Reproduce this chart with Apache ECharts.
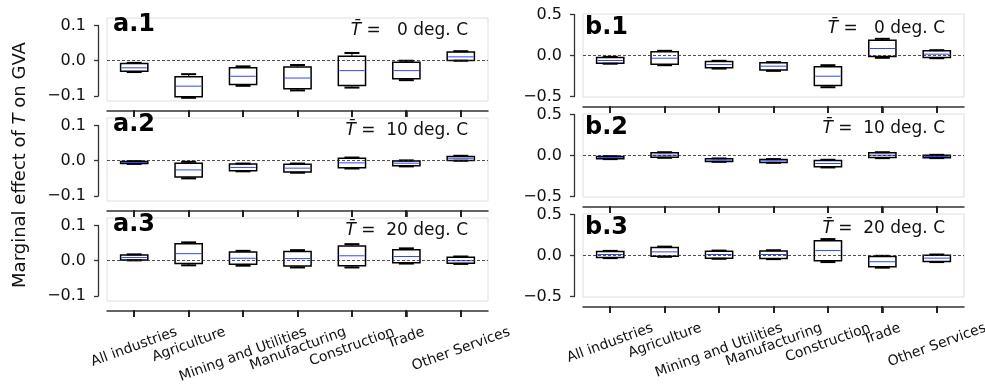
<!DOCTYPE html>
<html><head><meta charset="utf-8">
<script src="https://cdn.jsdelivr.net/npm/echarts@6/dist/echarts.min.js"></script>
<style>html,body{margin:0;padding:0;background:#fff}#c{width:985px;height:392px}</style>
</head><body><div id="c"></div>
<script>
const categories = ['All industries','Agriculture','Mining and Utilities','Manufacturing','Construction','Trade','Other Services'];
const temps = [0, 10, 20];
const panelNames = ['a.1','a.2','a.3','b.1','b.2','b.3'];
const yLabel = 'Marginal effect of T on GVA';
// each row: [lower whisker, Q1, median, Q3, upper whisker]
const a1 = [
  [-0.032,-0.030,-0.020,-0.008,-0.006],
  [-0.105,-0.102,-0.072,-0.045,-0.038],
  [-0.071,-0.067,-0.044,-0.020,-0.016],
  [-0.084,-0.079,-0.049,-0.018,-0.012],
  [-0.076,-0.070,-0.028, 0.013, 0.022],
  [-0.055,-0.051,-0.028,-0.004, 0.000],
  [ 0.000, 0.001, 0.011, 0.025, 0.027]
];
const a2 = [
  [-0.009,-0.008,-0.005,-0.002,-0.001],
  [-0.050,-0.046,-0.026,-0.007,-0.003],
  [-0.030,-0.028,-0.019,-0.009,-0.008],
  [-0.034,-0.032,-0.021,-0.010,-0.008],
  [-0.022,-0.020,-0.006, 0.007, 0.009],
  [-0.016,-0.014,-0.007,-0.001, 0.001],
  [ 0.000, 0.001, 0.007, 0.012, 0.014]
];
const a3 = [
  [ 0.001, 0.002, 0.009, 0.016, 0.018],
  [-0.013,-0.008, 0.020, 0.048, 0.052],
  [-0.014,-0.010, 0.007, 0.025, 0.028],
  [-0.019,-0.015, 0.006, 0.026, 0.030],
  [-0.019,-0.014, 0.014, 0.042, 0.047],
  [-0.008,-0.006, 0.012, 0.031, 0.035],
  [-0.009,-0.007, 0.000, 0.010, 0.012]
];
const b1 = [
  [-0.100,-0.093,-0.061,-0.024,-0.016],
  [-0.118,-0.106,-0.033, 0.045, 0.057],
  [-0.159,-0.150,-0.110,-0.073,-0.065],
  [-0.187,-0.175,-0.130,-0.089,-0.081],
  [-0.386,-0.366,-0.252,-0.138,-0.118],
  [-0.028,-0.012, 0.085, 0.187, 0.203],
  [-0.033,-0.024, 0.016, 0.057, 0.065]
];
const b2 = [
  [-0.044,-0.040,-0.026,-0.012,-0.008],
  [-0.028,-0.020, 0.004, 0.032, 0.040],
  [-0.077,-0.073,-0.056,-0.040,-0.036],
  [-0.089,-0.085,-0.065,-0.048,-0.044],
  [-0.145,-0.137,-0.097,-0.060,-0.052],
  [-0.032,-0.024, 0.004, 0.032, 0.040],
  [-0.032,-0.028,-0.012, 0.004, 0.008]
];
const b3 = [
  [-0.032,-0.024, 0.012, 0.048, 0.056],
  [-0.016,-0.008, 0.044, 0.096, 0.108],
  [-0.040,-0.032, 0.012, 0.052, 0.060],
  [-0.044,-0.036, 0.012, 0.056, 0.064],
  [-0.080,-0.064, 0.060, 0.180, 0.200],
  [-0.148,-0.136,-0.076,-0.012,-0.004],
  [-0.080,-0.072,-0.032, 0.004, 0.012]
];
const aTickRange = [-0.1, 0.1], aTickStep = 0.1, aLimits = [-0.114, 0.121];
const bTickRange = [-0.5, 0.5], bTickStep = 0.5, bLimits = [-0.505, 0.505];

const FONT = '"DejaVu Sans", "Liberation Sans", sans-serif';
const X_OFFSET = 10, X_TICK = 6;
const cols = {
  a: {left:107, width:381, top:18, height:83, lim:aLimits, tr:aTickRange, step:aTickStep, labX:113, labDy:7, tRight:468, tDy:13},
  b: {left:583, width:381, top:14, height:83, lim:bLimits, tr:bTickRange, step:bTickStep, labX:585, labDy:14, tRight:945, tDy:15}
};
const dataSets = [a1,a2,a3,b1,b2,b3];
const panels = dataSets.map((d,i)=>({col: i<3?'a':'b', row: i%3, name: panelNames[i], temp: temps[i%3], data: d}));

function renderBox(params, api) {
  const c = api.value(0);
  const x = api.coord([c, 0])[0];
  const yLo = api.coord([c, api.value(1)])[1];
  const yQ1 = api.coord([c, api.value(2)])[1];
  const yMed = api.coord([c, api.value(3)])[1];
  const yQ3 = api.coord([c, api.value(4)])[1];
  const yHi = api.coord([c, api.value(5)])[1];
  const band = api.size([1, 0])[0];
  const bw = band * 0.5, cw = bw * 0.55;
  const blk = '#000';
  return {type:'group', children:[
    {type:'line', shape:{x1:x,y1:yQ1,x2:x,y2:yLo}, style:{stroke:blk, lineWidth:1}},
    {type:'line', shape:{x1:x,y1:yQ3,x2:x,y2:yHi}, style:{stroke:blk, lineWidth:1}},
    {type:'line', shape:{x1:x-cw/2,y1:yLo,x2:x+cw/2,y2:yLo}, style:{stroke:blk, lineWidth:2}},
    {type:'line', shape:{x1:x-cw/2,y1:yHi,x2:x+cw/2,y2:yHi}, style:{stroke:blk, lineWidth:2}},
    {type:'rect', shape:{x:x-bw/2, y:yQ3, width:bw, height:yQ1-yQ3}, style:{fill:'none', stroke:blk, lineWidth:1.5}},
    {type:'line', shape:{x1:x-bw/2+1,y1:yMed,x2:x+bw/2-1,y2:yMed}, style:{stroke:'#3344ff', lineWidth:1}}
  ]};
}

const fmt = v => (v < 0 ? '\u2212' : '') + Math.abs(v).toFixed(1);
const grid=[], xAxis=[], yAxis=[], series=[];
panels.forEach((p,i)=>{
  const c = cols[p.col];
  const top = c.top + 100*p.row;
  const ppu = c.height/(c.lim[1]-c.lim[0]);
  grid.push({left:c.left, top:top, width:c.width, height:c.height, show:true, borderColor:'#dedede', borderWidth:1});
  grid.push({left:c.left, top: top + (c.lim[1]-c.tr[1])*ppu, width:c.width, height:(c.tr[1]-c.tr[0])*ppu, show:false});
  xAxis.push({gridIndex:2*i, type:'category', data:categories, boundaryGap:true, offset:X_OFFSET,
    axisLine:{show:true, onZero:false, lineStyle:{color:'#333', width:1.5}},
    axisTick:{show:true, alignWithLabel:true, interval:0, length:X_TICK, lineStyle:{color:'#222', width:1.6}},
    axisLabel:{show:false}, splitLine:{show:false}});
  xAxis.push({gridIndex:2*i+1, type:'category', data:categories, show:false});
  yAxis.push({gridIndex:2*i, type:'value', min:c.lim[0], max:c.lim[1], show:false, splitLine:{show:false}});
  yAxis.push({gridIndex:2*i+1, type:'value', min:c.tr[0], max:c.tr[1], interval:c.step, offset:9,
    axisLine:{show:true, onZero:false, lineStyle:{color:'#333', width:1.3}},
    axisTick:{show:true, length:4, lineStyle:{color:'#333', width:1.3}},
    axisLabel:{fontSize:16, color:'#111', fontFamily:FONT, margin:12, formatter:fmt},
    splitLine:{show:false}});
  series.push({type:'custom', xAxisIndex:2*i, yAxisIndex:2*i, renderItem:renderBox,
    data: p.data.map((r,k)=>[k, r[0], r[1], r[2], r[3], r[4]]),
    encode:{x:0, y:[1,2,3,4,5]},
    markLine:{silent:true, symbol:['none','none'], label:{show:false}, animation:false,
      lineStyle:{type:[3,2], color:'#222', width:0.8}, data:[{yAxis:0}]}});
});

const chart = echarts.init(document.getElementById('c'));
chart.setOption({animation:false, backgroundColor:'#fff', grid, xAxis, yAxis, series});

const XFS = 14;
const cv = document.createElement('canvas').getContext('2d');
cv.font = XFS + 'px ' + FONT;
const g = [];
const rot = 20*Math.PI/180;
panels.forEach((p,i)=>{
  const c = cols[p.col];
  const top = c.top + 100*p.row;
  const spineY = top + c.height + X_OFFSET;
  g.push({type:'text', x:c.labX, y:top + c.labDy, style:{text:p.name, fontSize:24, fontWeight:'bold', fontFamily:FONT, fill:'#000', align:'left', verticalAlign:'middle'}});
  const pad = p.temp < 10 ? '   ' : '  ';
  g.push({type:'text', x:c.tRight, y:top + c.tDy, style:{text:'{i|T\u0304} =' + pad + p.temp + ' deg. C', fontSize:17, fontFamily:FONT, fill:'#111', align:'right', verticalAlign:'middle',
    rich:{i:{fontStyle:'italic', fontSize:17, fontFamily:FONT, fill:'#111'}}}});
  categories.forEach((name,k)=>{
    const px = Math.round(chart.convertToPixel({xAxisIndex:2*i}, name));
    g.push({type:'rect', z:10, shape:{x:px - 1, y:spineY - 1, width:2, height:X_TICK + 1}, style:{fill:'#222'}});
    if (p.row === 2) {
      const w = cv.measureText(name).width;
      const hb = w*Math.sin(rot) + XFS*1.15*Math.cos(rot);
      g.push({type:'text', x:px, y:spineY + 13 + hb/2, rotation:rot, style:{text:name, fontSize:XFS, fontFamily:FONT, fill:'#111', align:'center', verticalAlign:'middle'}});
    }
  });
});
const yl = yLabel.split('T');
g.push({type:'text', x:20, y:165, rotation:Math.PI/2, style:{text:'{n|' + yl[0] + '}{i|T}{n|' + yl[1] + '}', align:'center', verticalAlign:'middle',
  rich:{n:{fontSize:18, fontFamily:FONT, fill:'#111'}, i:{fontSize:18, fontFamily:FONT, fontStyle:'italic', fill:'#111'}}}});
chart.setOption({graphic:g});
</script></body></html>
